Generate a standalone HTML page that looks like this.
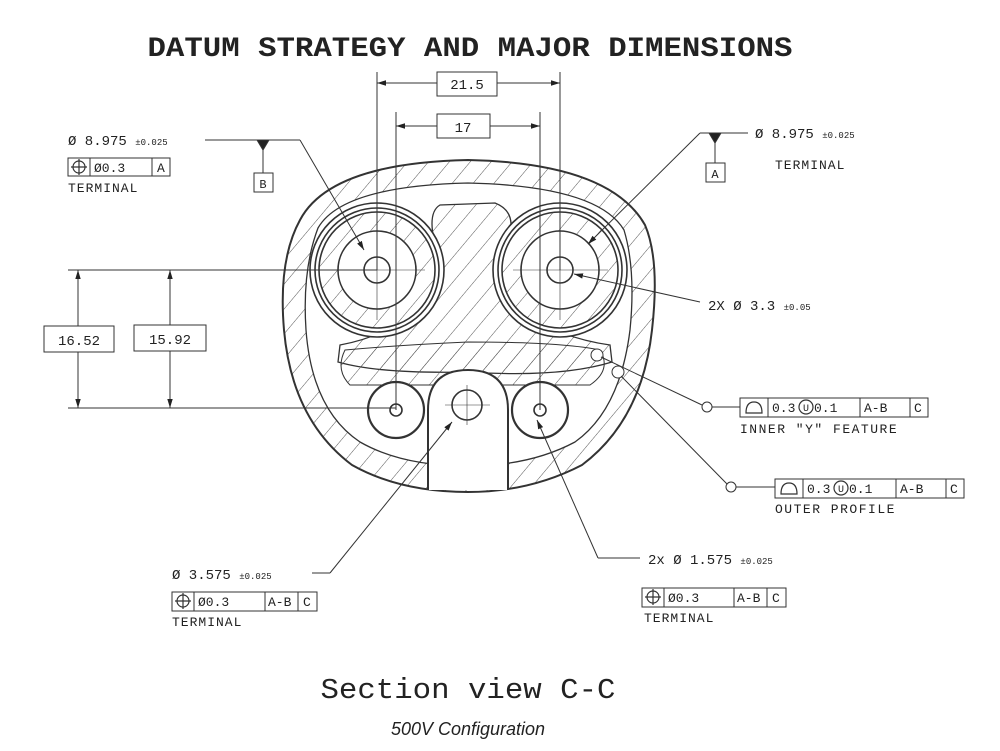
<!DOCTYPE html>
<html><head><meta charset="utf-8"><style>
html,body{margin:0;padding:0;background:#fff;}
svg{display:block}
.m{font-family:"Liberation Mono",monospace;fill:#222}
</style></head><body>
<svg width="1000" height="751" viewBox="0 0 1000 751" xmlns="http://www.w3.org/2000/svg">
<defs>
<pattern id="h" width="16" height="16" patternUnits="userSpaceOnUse" patternTransform="rotate(40)">
<line x1="0" y1="0" x2="0" y2="16" stroke="#555" stroke-width="1"/>
</pattern>
<marker id="a" viewBox="0 0 10 10" refX="10" refY="5" markerWidth="9" markerHeight="9" orient="auto-start-reverse"><path d="M0,2 L10,5 L0,8 Z" fill="#222"/></marker>
</defs>
<text x="470" y="56" text-anchor="middle" class="m" font-size="28" font-weight="bold" textLength="645" lengthAdjust="spacingAndGlyphs">DATUM STRATEGY AND MAJOR DIMENSIONS</text>

<g stroke="#333" fill="none" stroke-width="1">
<path d="M300,220 Q330,163 468,160 Q610,163 645,225 Q660,260 652,330 Q642,420 582,465 Q530,492 468,492 Q400,492 352,465 Q292,420 284,330 Q278,260 300,220 Z" fill="url(#h)" stroke-width="2"/>
<path d="M318,228 Q342,186 468,183 Q598,186 624,230 Q636,270 630,330 Q620,410 575,442 Q530,466 468,466 Q402,466 360,442 Q312,410 306,330 Q302,270 318,228 Z" fill="#fff" stroke-width="1.3"/>
<path d="M440,205 L495,203 Q518,212 508,240 Q495,280 522,312 Q560,338 610,345 L612,362 Q560,378 468,372 Q380,374 338,362 L340,345 Q390,336 418,306 Q444,280 434,240 Q428,212 440,205 Z" fill="url(#h)" stroke-width="1.3"/>
<path d="M345,350 Q400,345 468,342 Q560,342 600,350 Q612,370 590,385 L350,385 Q335,370 345,350 Z" fill="url(#h)" stroke-width="1"/>
<g stroke-width="1.6">
<circle cx="377" cy="270" r="67" fill="#fff"/><circle cx="377" cy="270" r="62"/><circle cx="377" cy="270" r="58" fill="url(#h)"/>
<circle cx="377" cy="270" r="39" fill="#fff"/><circle cx="377" cy="270" r="13" fill="#fff"/>
<circle cx="560" cy="270" r="67" fill="#fff"/><circle cx="560" cy="270" r="62"/><circle cx="560" cy="270" r="58" fill="url(#h)"/>
<circle cx="560" cy="270" r="39" fill="#fff"/><circle cx="560" cy="270" r="13" fill="#fff"/>
<circle cx="396" cy="410" r="28" fill="#fff" stroke-width="2.2"/><circle cx="396" cy="410" r="6"/>
<circle cx="540" cy="410" r="28" fill="#fff" stroke-width="2.2"/><circle cx="540" cy="410" r="6"/>
<path d="M428,490 L428,410 Q428,370 468,370 Q508,370 508,410 L508,490" fill="#fff" stroke-width="2"/>
<circle cx="467" cy="405" r="15"/>
</g>
<circle cx="597" cy="355" r="6" fill="#fff"/><circle cx="618" cy="372" r="6" fill="#fff"/>
<path d="M330,270 H425 M377,225 V320 M513,270 H608 M560,225 V320 M445,405 H490 M467,385 V425" stroke-width="0.6"/>
<path d="M377,72 V270 M560,72 V270 M396,112 V410 M540,112 V410"/>
<line x1="377" y1="83" x2="437" y2="83" marker-start="url(#a)"/><line x1="497" y1="83" x2="560" y2="83" marker-end="url(#a)"/>
<line x1="396" y1="126" x2="437" y2="126" marker-start="url(#a)"/><line x1="490" y1="126" x2="540" y2="126" marker-end="url(#a)"/>
<rect x="437" y="72" width="60" height="24"/><rect x="437" y="114" width="53" height="24"/>
<path d="M68,270 H377 M68,408 H396"/>
<line x1="78" y1="326" x2="78" y2="270" marker-end="url(#a)"/><line x1="78" y1="352" x2="78" y2="408" marker-end="url(#a)"/>
<line x1="170" y1="325" x2="170" y2="270" marker-end="url(#a)"/><line x1="170" y1="351" x2="170" y2="408" marker-end="url(#a)"/>
<rect x="44" y="326" width="70" height="26"/><rect x="134" y="325" width="72" height="26"/>
<path d="M205,140 H300"/><line x1="300" y1="140" x2="364" y2="250" marker-end="url(#a)"/>
<path d="M263,140 V173"/><path d="M257,140 L269,140 L263,150 Z" fill="#222"/>
<rect x="254" y="173" width="19" height="19"/>
<path d="M748,133 H700"/><line x1="700" y1="133" x2="588" y2="244" marker-end="url(#a)"/>
<path d="M715,133 V163"/><path d="M709,133 L721,133 L715,143 Z" fill="#222"/>
<rect x="706" y="163" width="19" height="19"/>
<line x1="700" y1="302" x2="574" y2="274" marker-end="url(#a)"/>
<line x1="702" y1="405" x2="601" y2="357"/><circle cx="707" cy="407" r="5"/><path d="M712,407 H740"/>
<line x1="727" y1="484" x2="621" y2="376"/><circle cx="731" cy="487" r="5"/><path d="M736,487 H775"/>
<path d="M312,573 H330"/><line x1="330" y1="573" x2="452" y2="422" marker-end="url(#a)"/>
<path d="M640,558 H598"/><line x1="598" y1="558" x2="537" y2="420" marker-end="url(#a)"/>
<rect x="68" y="158" width="102" height="18"/><path d="M90,158 V176 M152,158 V176"/>
<rect x="740" y="398" width="188" height="19"/><path d="M768,398 V417 M860,398 V417 M910,398 V417"/>
<rect x="775" y="479" width="189" height="19"/><path d="M803,479 V498 M896,479 V498 M946,479 V498"/>
<rect x="172" y="592" width="145" height="19"/><path d="M194,592 V611 M265,592 V611 M298,592 V611"/>
<rect x="642" y="588" width="144" height="19"/><path d="M664,588 V607 M734,588 V607 M767,588 V607"/>
<g stroke-width="1.2">
<circle cx="79" cy="167" r="6"/><path d="M71,167 H87 M79,159 V175"/>
<circle cx="183" cy="601" r="6"/><path d="M175,601 H191 M183,593 V609"/>
<circle cx="653" cy="597" r="6"/><path d="M645,597 H661 M653,589 V605"/>
<path d="M746,413 H762 Q762,402 754,402 Q746,402 746,413 Z"/>
<path d="M781,494 H797 Q797,483 789,483 Q781,483 781,494 Z"/>
<circle cx="806" cy="407" r="7"/><circle cx="841" cy="488" r="7"/>
</g>
</g>
<g class="m" font-size="14">
<text x="467" y="89" text-anchor="middle">21.5</text>
<text x="463" y="132" text-anchor="middle">17</text>
<text x="79" y="345" text-anchor="middle">16.52</text>
<text x="170" y="344" text-anchor="middle">15.92</text>
<text x="68" y="145">Ø 8.975 <tspan font-size="9">±0.025</tspan></text>
<text x="755" y="138">Ø 8.975 <tspan font-size="9">±0.025</tspan></text>
<text x="708" y="310">2X Ø 3.3 <tspan font-size="9">±0.05</tspan></text>
<text x="172" y="579">Ø 3.575 <tspan font-size="9">±0.025</tspan></text>
<text x="648" y="564">2x Ø 1.575 <tspan font-size="9">±0.025</tspan></text>
<text x="263" y="188" text-anchor="middle" font-size="12">B</text>
<text x="715" y="178" text-anchor="middle" font-size="12">A</text>
</g>
<g class="m" font-size="13">
<text x="94" y="172">Ø0.3</text><text x="157" y="172">A</text>
<text x="68" y="192" letter-spacing="1">TERMINAL</text>
<text x="775" y="169" letter-spacing="1">TERMINAL</text>
<text x="772" y="412">0.3</text><text x="806" y="411" text-anchor="middle" font-size="10">U</text><text x="814" y="412">0.1</text><text x="864" y="412">A-B</text><text x="914" y="412">C</text>
<text x="740" y="433" letter-spacing="1.5">INNER "Y" FEATURE</text>
<text x="807" y="493">0.3</text><text x="841" y="492" text-anchor="middle" font-size="10">U</text><text x="849" y="493">0.1</text><text x="900" y="493">A-B</text><text x="950" y="493">C</text>
<text x="775" y="513" letter-spacing="1.5">OUTER PROFILE</text>
<text x="198" y="606">Ø0.3</text><text x="268" y="606">A-B</text><text x="303" y="606">C</text>
<text x="172" y="626" letter-spacing="1">TERMINAL</text>
<text x="668" y="602">Ø0.3</text><text x="737" y="602">A-B</text><text x="772" y="602">C</text>
<text x="644" y="622" letter-spacing="1">TERMINAL</text>
</g>
<text x="468" y="698" text-anchor="middle" class="m" font-size="29" textLength="295" lengthAdjust="spacingAndGlyphs">Section view C-C</text>
<text x="468" y="735" text-anchor="middle" font-family="Liberation Sans,sans-serif" font-style="italic" font-size="18" fill="#222">500V Configuration</text>
</svg>
</body></html>
